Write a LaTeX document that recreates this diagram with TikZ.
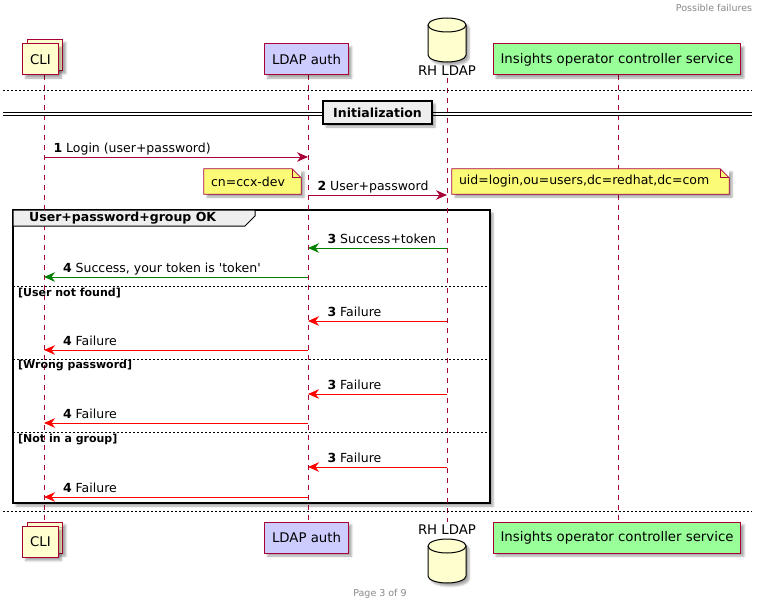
\documentclass[tikz,border=0pt]{standalone}
\usepackage{fontspec}
\setmainfont{DejaVu Sans}
\usetikzlibrary{arrows.meta,shadows.blur,positioning}

\definecolor{umlred}{HTML}{A80036}
\definecolor{clifill}{HTML}{FEFECE}
\definecolor{authfill}{HTML}{CCCCFF}
\definecolor{svcfill}{HTML}{99FF99}
\definecolor{notefill}{HTML}{FBFB77}
\definecolor{groupfill}{HTML}{EEEEEE}
\definecolor{okgreen}{HTML}{008000}
\definecolor{failred}{HTML}{FF0000}
\definecolor{pagegray}{HTML}{888888}

\newcommand{\msgfont}{\fontsize{12.5}{15}\selectfont}
\newcommand{\partfont}{\fontsize{13.3}{16}\selectfont}
\newcommand{\altfont}{\fontsize{11}{13}\selectfont\bfseries}
\newcommand{\pagefont}{\fontsize{9.5}{11}\selectfont}

\begin{document}
\begin{tikzpicture}[
        x=1pt, y=-1pt,
        shade/.style={blur shadow={shadow xshift=3pt, shadow yshift=-3pt, shadow blur radius=2pt, shadow opacity=35}},
        participant/.style={rectangle, draw=umlred, line width=1pt, minimum height=31pt, inner xsep=7.5pt, font=\partfont, shade},
        lifeline/.style={umlred, line width=0.8pt, dash pattern=on 5pt off 5pt},
        sepline/.style={black, line width=0.8pt, dash pattern=on 2pt off 2pt},
        msg/.style={umlred, line width=1pt, -{Stealth[length=11pt, width=9.5pt, inset=3.5pt]}},
        okmsg/.style={msg, okgreen},
        failmsg/.style={msg, failred},
        msglabel/.style={font=\msgfont, text=black, inner sep=0pt, anchor=base west, yshift=5pt},
        note/.style={rectangle, fill=notefill, font=\msgfont, inner xsep=7pt, inner ysep=0pt, minimum height=25pt, align=left, shade},
        noteline/.style={draw=umlred, line width=0.8pt},
        altlabel/.style={font=\altfont, inner sep=0pt, anchor=west}
    ]
        \useasboundingbox (0,0) rectangle (763,610);

        % Header and footer
        \node[font=\pagefont, text=pagegray] (header) at (714,8) {Possible failures};
        \node[font=\pagefont, text=pagegray] (footer) at (380,594) {Page 3 of 9};

        % Group frame
        \filldraw[fill=white, draw=black, line width=1.5pt, shade] (13,210) rectangle (490,503);

        % Lifeline positions
        \coordinate (cli) at (44,75);
        \coordinate (auth) at (308,75);
        \coordinate (ldap) at (447,78);
        \coordinate (svc) at (618,75);
        \coordinate (bottom) at (0,522);

        % Lifelines
        \draw[lifeline] (cli) -- (cli |- bottom);
        \draw[lifeline] (auth) -- (auth |- bottom);
        \draw[lifeline] (ldap) -- (ldap |- bottom);
        \draw[lifeline] (svc) -- (svc |- bottom);

        % Participants (top)
        \node[participant, fill=clifill, minimum width=34pt] (cliBackTop) at (45,55) {\phantom{CLI}};
        \node[participant, fill=clifill, minimum width=34pt] (cliTop) at (40.5,59.5) {CLI};
        \node[participant, fill=authfill] (authTop) at (306.5,59.5) {LDAP auth};
        \node[font=\partfont, inner sep=0pt] (ldapTop) at (447,71) {RH LDAP};
        \node[participant, fill=svcfill] (svcTop) at (617,59.5) {Insights operator controller service};
        \begin{scope}[shift={(447,40)}, y=1pt]
            \filldraw[fill=clifill, draw=black, line width=1pt, shade] (-19,15) -- (-19,-15) arc[start angle=180, end angle=360, x radius=19, y radius=7] -- (19,15) arc[start angle=0, end angle=180, x radius=19, y radius=7] -- cycle;
            \draw[line width=1pt] (-19,15) arc[start angle=180, end angle=360, x radius=19, y radius=7];
        \end{scope}

        % Participants (bottom)
        \node[participant, fill=clifill, minimum width=34pt] (cliBackBot) at (45,537.5) {\phantom{CLI}};
        \node[participant, fill=clifill, minimum width=34pt] (cliBot) at (40.5,542) {CLI};
        \node[participant, fill=authfill] (authBot) at (306.5,537.5) {LDAP auth};
        \node[font=\partfont, inner sep=0pt] (ldapBot) at (447,530) {RH LDAP};
        \node[participant, fill=svcfill] (svcBot) at (617,537.5) {Insights operator controller service};
        \begin{scope}[shift={(447,561)}, y=1pt]
            \filldraw[fill=clifill, draw=black, line width=1pt, shade] (-19,15) -- (-19,-15) arc[start angle=180, end angle=360, x radius=19, y radius=7] -- (19,15) arc[start angle=0, end angle=180, x radius=19, y radius=7] -- cycle;
            \draw[line width=1pt] (-19,15) arc[start angle=180, end angle=360, x radius=19, y radius=7];
        \end{scope}

        % Page separators
        \draw[sepline] (3,90) -- (752,90);
        \draw[sepline] (3,511) -- (752,511);

        % Initialization divider
        \draw[line width=1pt] (3,112.5) -- (752,112.5);
        \draw[line width=1pt] (3,115.5) -- (752,115.5);
        \node[fill=groupfill, draw=black, line width=1.5pt, minimum width=109pt, minimum height=23pt, font=\msgfont\bfseries, shade] (init) at (377.5,112.5) {Initialization};

        % Message rows
        \coordinate (m1) at (0,157);
        \coordinate (m2) at (0,195);
        \coordinate (m3) at (0,248);
        \coordinate (m4) at (0,277);
        \coordinate (m5) at (0,321);
        \coordinate (m6) at (0,350);
        \coordinate (m7) at (0,394);
        \coordinate (m8) at (0,423);
        \coordinate (m9) at (0,467);
        \coordinate (m10) at (0,497);

        % Login
        \draw[msg] (cli |- m1) -- node[msglabel, at start, xshift=9pt] {\textbf{1} Login (user+password)} (auth |- m1);
        \draw[msg] (auth |- m2) -- node[msglabel, at start, xshift=9pt] {\textbf{2} User+password} (ldap |- m2);

        % Notes
        \node[note, text width=83pt] (cnNote) at (252.5,181.5) {cn=ccx-dev};
        \fill[white] (cnNote.north east) -- ([xshift=-9pt]cnNote.north east) -- ([yshift=-9pt]cnNote.north east) -- cycle;
        \draw[noteline] (cnNote.north west) -- ([xshift=-9pt]cnNote.north east) -- ([yshift=-9pt]cnNote.north east) -- (cnNote.south east) -- (cnNote.south west) -- cycle;
        \draw[noteline] ([xshift=-9pt]cnNote.north east) |- ([yshift=-9pt]cnNote.north east);
        \node[note, text width=263pt] (uidNote) at (590.5,181.5) {uid=login,ou=users,dc=redhat,dc=com};
        \fill[white] (uidNote.north east) -- ([xshift=-9pt]uidNote.north east) -- ([yshift=-9pt]uidNote.north east) -- cycle;
        \draw[noteline] (uidNote.north west) -- ([xshift=-9pt]uidNote.north east) -- ([yshift=-9pt]uidNote.north east) -- (uidNote.south east) -- (uidNote.south west) -- cycle;
        \draw[noteline] ([xshift=-9pt]uidNote.north east) |- ([yshift=-9pt]uidNote.north east);

        % Group header
        \filldraw[fill=groupfill, draw=black, line width=1pt] (13,210) -- (255,210) -- (255,216) -- (245,226) -- (13,226) -- cycle;
        \node[font=\msgfont\bfseries, inner sep=0pt, anchor=west] (grpTitle) at (29,218) {User+password+group OK};

        % Success
        \draw[okmsg] (ldap |- m3) -- node[msglabel, at end, xshift=19pt] {\textbf{3} Success+token} (auth |- m3);
        \draw[okmsg] (auth |- m4) -- node[msglabel, at end, xshift=18.5pt] {\textbf{4} Success, your token is \textquotesingle token\textquotesingle} (cli |- m4);

        % User not found
        \draw[sepline] (13,286) -- (490,286);
        \node[altlabel] (alt1) at (18,293) {[User not found]};
        \draw[failmsg] (ldap |- m5) -- node[msglabel, at end, xshift=19pt] {\textbf{3} Failure} (auth |- m5);
        \draw[failmsg] (auth |- m6) -- node[msglabel, at end, xshift=18.5pt] {\textbf{4} Failure} (cli |- m6);

        % Wrong password
        \draw[sepline] (13,359) -- (490,359);
        \node[altlabel] (alt2) at (18,366) {[Wrong password]};
        \draw[failmsg] (ldap |- m7) -- node[msglabel, at end, xshift=19pt] {\textbf{3} Failure} (auth |- m7);
        \draw[failmsg] (auth |- m8) -- node[msglabel, at end, xshift=18.5pt] {\textbf{4} Failure} (cli |- m8);

        % Not in a group
        \draw[sepline] (13,432) -- (490,432);
        \node[altlabel] (alt3) at (18,440) {[Not in a group]};
        \draw[failmsg] (ldap |- m9) -- node[msglabel, at end, xshift=19pt] {\textbf{3} Failure} (auth |- m9);
        \draw[failmsg] (auth |- m10) -- node[msglabel, at end, xshift=18.5pt] {\textbf{4} Failure} (cli |- m10);
    \end{tikzpicture}
\end{document}
